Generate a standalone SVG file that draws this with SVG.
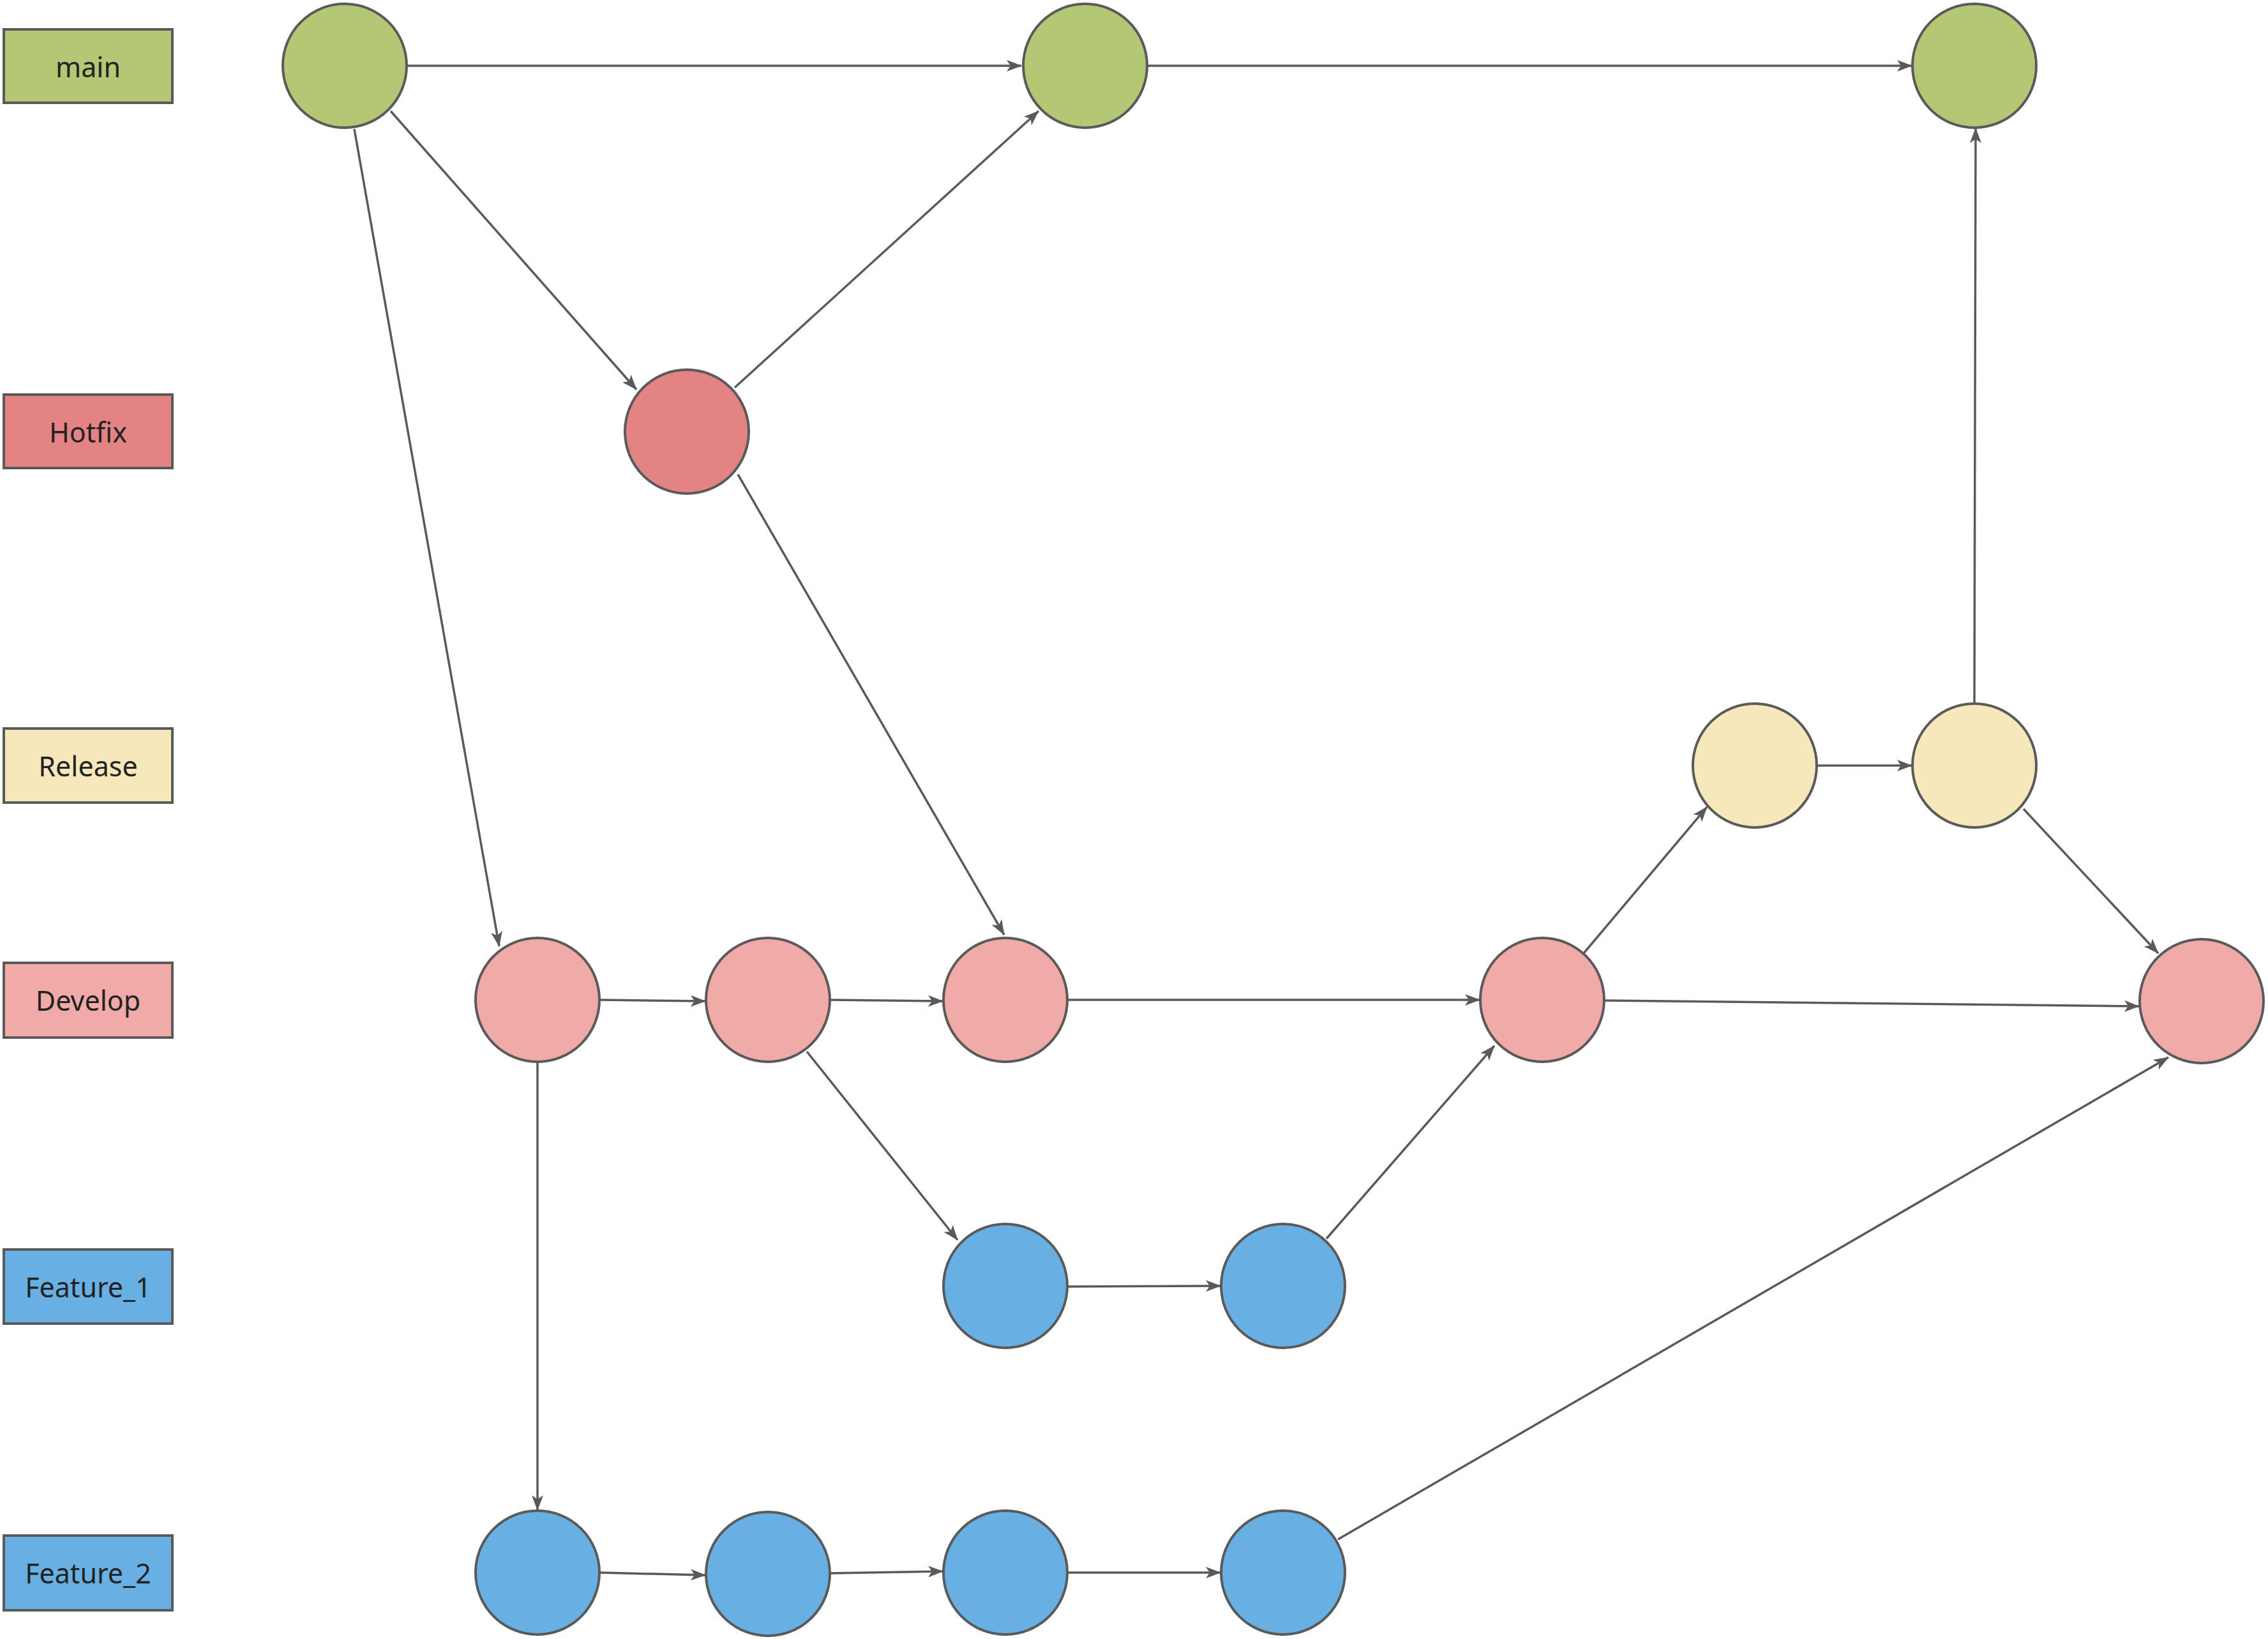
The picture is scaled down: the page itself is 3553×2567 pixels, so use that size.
<svg xmlns="http://www.w3.org/2000/svg" width="3553" height="2567" viewBox="0 0 3553 2567">
<style>
.lbl rect{stroke:#5a5a5a;stroke-width:4}
.lbl text{font-family:"Noto Sans","Liberation Sans",sans-serif;font-size:43px;fill:#222;text-anchor:middle;dominant-baseline:central}
.n{stroke:#5a5a5a;stroke-width:4}
.g{fill:#b3c775}.h{fill:#e48383}.d{fill:#f0aba9}.y{fill:#f7e8bb}.b{fill:#68b0e3}
#edges line{stroke:#5a5a5a;stroke-width:3.5;marker-end:url(#arr)}
</style>
<defs>
<marker id="arr" viewBox="0 0 24 18" refX="23" refY="9" markerWidth="24" markerHeight="18" markerUnits="userSpaceOnUse" orient="auto">
<path d="M0,0 L24,9 L0,18 L6,9 Z" fill="#5a5a5a"/>
</marker>
</defs>
<rect width="3553" height="2567" fill="#fff"/>
<g id="labels">
<g id="lbl-main" class="lbl"><rect x="6" y="46" width="264" height="115" class="g"/><text x="138" y="104">main</text></g>
<g id="lbl-hotfix" class="lbl"><rect x="6" y="618" width="264" height="115" class="h"/><text x="138" y="676">Hotfix</text></g>
<g id="lbl-release" class="lbl"><rect x="6" y="1141" width="264" height="116" class="y"/><text x="138" y="1199">Release</text></g>
<g id="lbl-develop" class="lbl"><rect x="6" y="1508" width="264" height="117" class="d"/><text x="138" y="1566">Develop</text></g>
<g id="lbl-feature1" class="lbl"><rect x="6" y="1957" width="264" height="116" class="b"/><text x="138" y="2015">Feature_1</text></g>
<g id="lbl-feature2" class="lbl"><rect x="6" y="2405" width="264" height="117" class="b"/><text x="138" y="2463">Feature_2</text></g>
</g>
<g id="edges">
<line x1="639" y1="103" x2="1600" y2="103"/>
<line x1="1798" y1="103" x2="2995" y2="103"/>
<line x1="612" y1="174" x2="997" y2="610"/>
<line x1="555" y1="202" x2="782" y2="1482"/>
<line x1="1151" y1="607" x2="1627" y2="174"/>
<line x1="1156" y1="743" x2="1573" y2="1464"/>
<line x1="940" y1="1566" x2="1105" y2="1568"/>
<line x1="1301" y1="1566" x2="1477" y2="1568"/>
<line x1="1673" y1="1566" x2="2318" y2="1566"/>
<line x1="2514" y1="1567" x2="3351" y2="1576"/>
<line x1="1264" y1="1647" x2="1500" y2="1942"/>
<line x1="2481" y1="1493" x2="2674" y2="1264"/>
<line x1="2847" y1="1199" x2="2995" y2="1199"/>
<line x1="3093" y1="1101" x2="3095" y2="201"/>
<line x1="3170" y1="1267" x2="3381" y2="1493"/>
<line x1="842" y1="1664" x2="842" y2="2365"/>
<line x1="1673" y1="2015" x2="1912" y2="2014"/>
<line x1="2078" y1="1940" x2="2341" y2="1638"/>
<line x1="940" y1="2463" x2="1105" y2="2467"/>
<line x1="1301" y1="2464" x2="1477" y2="2461"/>
<line x1="1673" y1="2463" x2="1912" y2="2463"/>
<line x1="2096" y1="2411" x2="3397" y2="1656"/>
</g>
<g id="nodes">
<circle id="main1" class="n g" cx="540" cy="103" r="97"/>
<circle id="main2" class="n g" cx="1700" cy="103" r="97"/>
<circle id="main3" class="n g" cx="3093" cy="103" r="97"/>
<circle id="hotfix1" class="n h" cx="1076" cy="676" r="97"/>
<circle id="release1" class="n y" cx="2749" cy="1199" r="97"/>
<circle id="release2" class="n y" cx="3093" cy="1199" r="97"/>
<circle id="dev1" class="n d" cx="842" cy="1566" r="97"/>
<circle id="dev2" class="n d" cx="1203" cy="1566" r="97"/>
<circle id="dev3" class="n d" cx="1575" cy="1566" r="97"/>
<circle id="dev4" class="n d" cx="2416" cy="1566" r="97"/>
<circle id="dev5" class="n d" cx="3449" cy="1568" r="97"/>
<circle id="f1a" class="n b" cx="1575" cy="2014" r="97"/>
<circle id="f1b" class="n b" cx="2010" cy="2014" r="97"/>
<circle id="f2a" class="n b" cx="842" cy="2463" r="97"/>
<circle id="f2b" class="n b" cx="1203" cy="2465" r="97"/>
<circle id="f2c" class="n b" cx="1575" cy="2463" r="97"/>
<circle id="f2d" class="n b" cx="2010" cy="2463" r="97"/>
</g>
</svg>
